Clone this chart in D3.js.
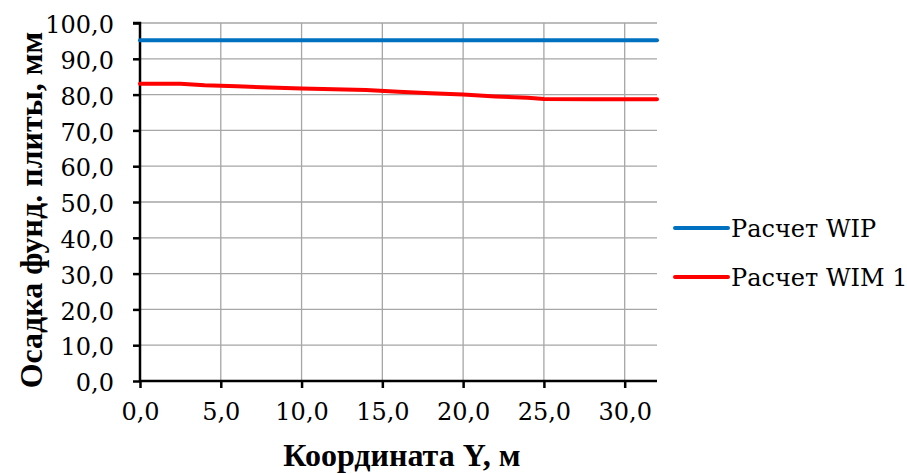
<!DOCTYPE html>
<html><head><meta charset="utf-8">
<script src="https://cdn.jsdelivr.net/npm/d3@7"></script>
<style>body{margin:0;background:#fff;} svg text{font-family:"DejaVu Serif",serif;} svg text.b{font-family:"Liberation Serif","Times New Roman",serif;}</style>
</head><body>
<svg id="c" width="907" height="474"></svg>
<script>
const xValues = [0, 2.5, 4, 6, 8, 10, 12, 14, 16, 18, 20, 22, 24, 25, 28, 32];
const wipValues = [95.2, 95.2, 95.2, 95.2, 95.2, 95.2, 95.2, 95.2, 95.2, 95.2, 95.2, 95.2, 95.2, 95.2, 95.2, 95.2];
const wim1Values = [83.0, 83.0, 82.6, 82.3, 82.0, 81.7, 81.5, 81.3, 80.8, 80.4, 80.0, 79.5, 79.1, 78.8, 78.7, 78.7];
const seriesNames = ["Расчет WIP", "Расчет WIM 1"];
const seriesColors = ["#0070C0", "#FF0000"];
const xTicks = [0, 5, 10, 15, 20, 25, 30];
const yTicks = [0, 10, 20, 30, 40, 50, 60, 70, 80, 90, 100];
const xTitle = "Координата Y, м";
const yTitle = "Осадка фунд. плиты, мм";

const svg = d3.select("#c");
const L = 140, R = 657, T = 23, B = 381;
const x = d3.scaleLinear().domain([0, 32]).range([L, R]);
const y = d3.scaleLinear().domain([0, 100]).range([B, T]);
const fmt = d => d.toFixed(1).replace(".", ",");

// grid
svg.append("g").selectAll("line").data(yTicks.filter(d => d > 0)).join("line")
  .attr("x1", L).attr("x2", R).attr("y1", d => y(d)).attr("y2", d => y(d))
  .attr("stroke", "#a6a6a6").attr("stroke-width", 1.3);
svg.append("g").selectAll("line").data(xTicks.filter(d => d > 0)).join("line")
  .attr("x1", d => x(d)).attr("x2", d => x(d)).attr("y1", T).attr("y2", B)
  .attr("stroke", "#a6a6a6").attr("stroke-width", 1.3);

// axes
const xAxis = svg.append("g").attr("transform", `translate(0,${B})`)
  .call(d3.axisBottom(x).tickValues(xTicks).tickFormat(fmt).tickSize(7).tickPadding(15));
const yAxis = svg.append("g").attr("transform", `translate(${L},0)`)
  .call(d3.axisLeft(y).tickValues(yTicks).tickFormat(fmt).tickSize(7).tickPadding(19));
[xAxis, yAxis].forEach(g => {
  g.attr("font-family", null);
  g.select(".domain").attr("stroke", "#000").attr("stroke-width", 2.5);
  g.selectAll(".tick line").attr("stroke", "#000").attr("stroke-width", 2.5);
  g.selectAll(".tick text").attr("fill", "#000").attr("font-size", 24);
});
yAxis.selectAll(".tick text").attr("dy", "0.4em");
xAxis.select(".domain").attr("d", `M${L},0H${R}`);
yAxis.select(".domain").attr("d", `M-7,${T}H0V${B}`);

// lines
const series = [wipValues, wim1Values];
const line = d3.line().x((d, i) => x(xValues[i])).y(d => y(d));
series.forEach((s, k) => {
  svg.append("path").datum(s).attr("d", line).attr("fill", "none")
    .attr("stroke", seriesColors[k]).attr("stroke-width", 4).attr("stroke-linecap", "round");
});

// legend
seriesNames.forEach((n, k) => {
  const ly = 228 + k * 49;
  svg.append("line").attr("x1", 675).attr("x2", 728).attr("y1", ly).attr("y2", ly)
    .attr("stroke", seriesColors[k]).attr("stroke-width", 4).attr("stroke-linecap", "round");
  svg.append("text").attr("x", 731).attr("y", ly + 9).text(n)
    .attr("font-size", 24).attr("fill", "#000");
});

// titles
svg.append("text").attr("class", "b").attr("x", 402).attr("y", 466).attr("text-anchor", "middle")
  .attr("font-size", 32).attr("font-weight", "bold").text(xTitle);
svg.append("text").attr("class", "b").attr("transform", `translate(42,210) rotate(-90)`)
  .attr("text-anchor", "middle").attr("font-size", 32).attr("font-weight", "bold")
  .text(yTitle);
</script>
</body></html>
